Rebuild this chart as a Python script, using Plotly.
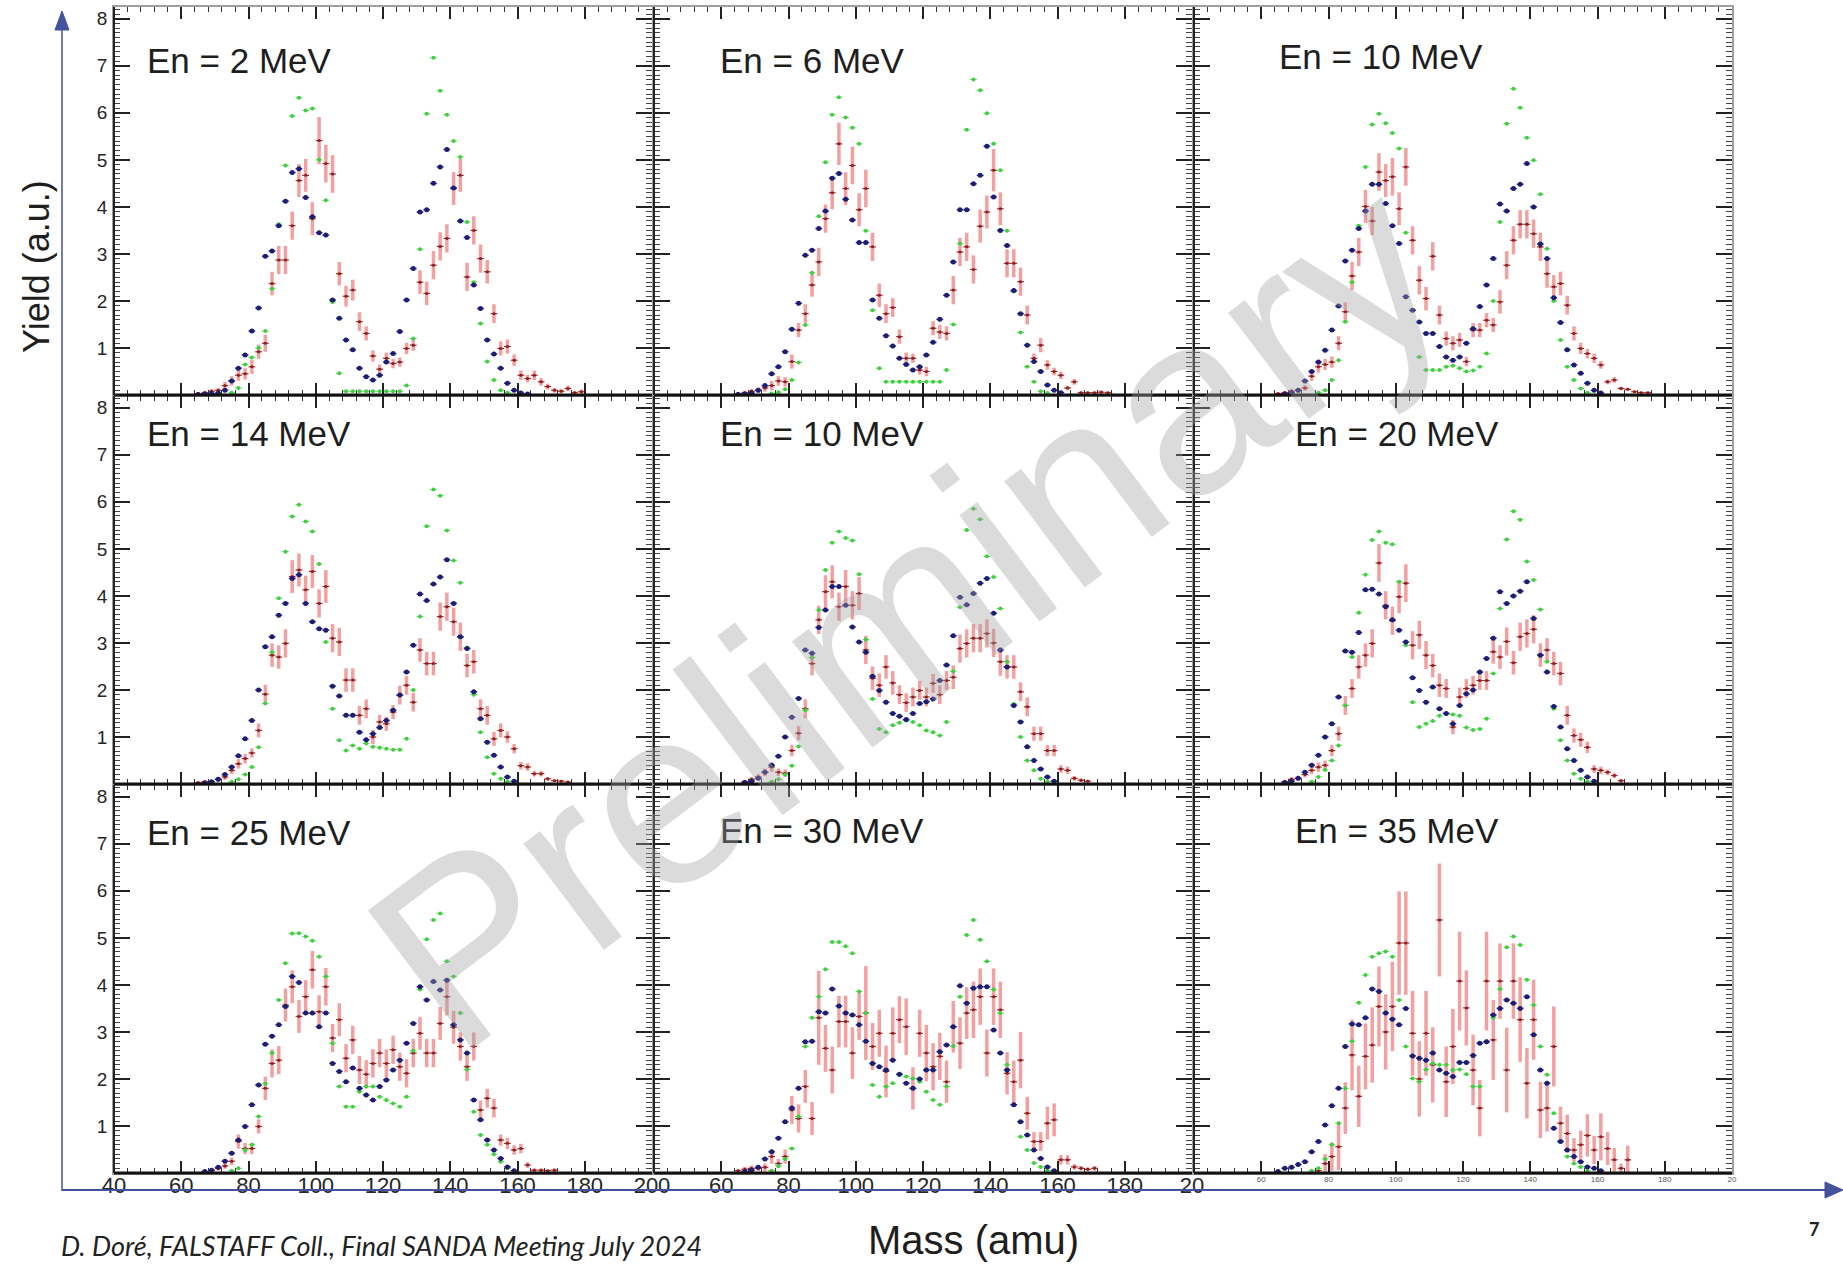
import plotly.graph_objects as go

W, H = 1843, 1266
N = None
MASS = list(range(61, 180, 2))  # bin centres (amu), 2-amu bins

TITLES = ["En = 2 MeV", "En = 6 MeV", "En = 10 MeV",
          "En = 14 MeV", "En = 10 MeV", "En = 20 MeV",
          "En = 25 MeV", "En = 30 MeV", "En = 35 MeV"]

# ---------------- panel 1 : 2 MeV
G1 = [N,N,N,N,N,N,N,0.05,0.15,0.65, 0.8,1.0,1.36,2.26,3.63,4.88,5.93,6.32,6.05,6.09,
      5.0,4.14,1.98,0.46,0.08,0.08,0.08,0.08,0.08,0.08, 0.08,0.08,0.08,0.2,1.2,3.1,5.98,7.17,6.47,5.96,
      5.4,5.06,3.68,2.4,1.52,0.71,0.32,0.1,0.05,N, N,N,N,N,N,N,N,N,N,N]
B1 = [N,N,0.01,0.02,0.03,0.04,0.1,0.3,0.57,0.85, 1.36,1.85,2.95,3.06,3.6,4.12,4.73,4.81,4.2,3.79,
      3.45,3.4,2.02,1.63,1.17,0.96,0.57,0.39,0.32,0.42, 0.7,0.88,1.35,2.02,2.69,3.89,3.94,4.5,4.85,5.22,
      4.4,3.7,3.35,2.34,1.84,1.17,0.87,0.57,0.25,0.1, 0.04,0.02,N,N,N,N,N,N,N,N]
R1 = [N,N,0.03,0.05,0.08,0.1,0.2,0.3,0.42,0.45, 0.6,0.92,1.1,2.37,2.87,2.87,3.6,4.56,4.67,3.75,
      5.41,4.92,4.7,2.58,2.1,2.23,1.56,1.31,0.83,0.55, 0.78,0.67,0.7,0.99,1.06,2.4,2.16,2.76,3.16,3.33,
      4.39,4.67,2.51,3.5,2.9,2.62,1.73,0.99,1.03,0.74, 0.42,0.35,0.42,0.28,0.18,0.1,0.08,0.14,0.05,0.07]
E1 = [N,N,0.03,0.04,0.05,0.05,0.08,0.1,0.12,0.12, 0.15,0.15,0.18,0.25,0.3,0.3,0.3,0.35,0.35,0.35,
      0.5,0.4,0.4,0.25,0.22,0.22,0.2,0.15,0.12,0.1, 0.12,0.1,0.1,0.12,0.12,0.25,0.25,0.3,0.3,0.3,
      0.35,0.35,0.3,0.3,0.3,0.25,0.2,0.15,0.15,0.12, 0.1,0.08,0.1,0.08,0.06,0.05,0.05,0.06,0.04,0.05]

# ---------------- panel 2 : 6 MeV
G2 = [N,N,N,N,N,N,N,0.03,0.06,0.12, 0.32,0.69,1.49,2.6,3.8,4.95,5.96,6.33,5.9,5.68,
      5.34,3.49,1.8,0.57,0.28,0.28,0.28,0.28,0.28,0.28, 0.28,0.28,0.28,0.53,1.5,3.22,5.64,6.71,6.48,5.99,
      5.34,4.78,3.49,2.2,1.33,0.6,0.28,0.08,0.04,N, N,N,N,N,N,N,N,N,N,N]
B2 = [N,N,0.01,0.02,0.04,0.1,0.2,0.45,0.6,0.92, 1.4,1.95,2.97,3.08,3.54,3.91,4.61,4.71,4.16,3.72,
      3.24,3.24,2.02,1.63,1.26,1.04,0.78,0.65,0.53,0.6, 0.85,1.12,1.61,2.12,2.83,3.94,3.94,4.49,4.67,5.29,
      4.21,3.5,3.18,2.22,1.73,1.06,0.71,0.5,0.21,0.1, 0.05,N,N,N,N,N,N,N,N,N]
R2 = [N,N,0.03,0.05,0.08,0.1,0.15,0.2,0.3,0.28, 0.71,1.38,1.73,2.34,2.83,3.75,4.3,5.34,4.39,4.88,
      3.94,4.39,3.15,2.12,1.73,1.86,1.24,0.78,0.78,0.53, 0.5,1.42,1.34,1.31,2.23,3.04,3.15,2.67,3.59,3.89,
      4.78,3.96,2.8,2.8,2.41,1.7,0.78,1.06,0.64,0.5, 0.42,0.15,0.28,0.05,0.05,0.05,0.06,0.05,N,N]
E2 = [N,N,0.03,0.04,0.05,0.06,0.08,0.1,0.1,0.1, 0.15,0.15,0.2,0.25,0.3,0.3,0.35,0.45,0.35,0.4,
      0.35,0.4,0.3,0.25,0.2,0.2,0.15,0.12,0.1,0.1, 0.1,0.15,0.15,0.15,0.3,0.3,0.3,0.3,0.35,0.35,
      0.45,0.35,0.3,0.3,0.3,0.2,0.1,0.15,0.1,0.08, 0.08,0.05,0.06,0.03,0.03,0.03,0.04,0.03,N,N]

# ---------------- panel 3 : 10 MeV
G3 = [N,N,N,N,N,N,N,N,0.05,0.1, 0.32,0.74,1.56,2.4,3.6,4.85,5.75,5.98,5.78,5.57,
      5.24,3.45,1.8,0.81,0.53,0.53,0.53,0.6,0.62,0.57, 0.5,0.52,0.6,0.88,2.0,3.68,5.77,6.51,6.11,5.47,
      4.99,4.27,3.11,2.0,1.17,0.6,0.32,0.14,0.05,N, N,N,N,N,N,N,N,N,N,N]
B3 = [N,N,N,0.02,0.05,0.1,0.3,0.5,0.7,0.95, 1.38,1.89,2.85,3.08,3.54,3.91,4.48,4.48,4.07,3.6,
      3.22,2.09,1.8,1.55,1.31,1.31,1.03,0.81,0.74,0.81, 1.1,1.41,1.88,2.34,2.9,4.06,3.91,4.39,4.48,4.92,
      4.0,3.21,2.9,2.07,1.54,0.96,0.64,0.46,0.25,0.1, 0.04,N,N,N,N,N,N,N,N,N]
R3 = [N,N,0.03,0.05,0.08,0.1,0.15,0.4,0.6,0.65, 0.7,1.1,1.77,2.53,3.04,4.01,3.7,4.74,4.56,4.64,
      3.96,4.85,3.29,2.44,2.05,2.95,1.7,1.2,1.1,1.17, 0.71,1.38,1.38,1.59,1.49,1.98,2.76,3.29,3.63,3.63,
      3.43,3.15,2.58,2.3,2.37,1.91,1.31,0.99,0.88,0.78, 0.64,0.28,0.32,0.14,0.12,0.07,0.05,0.05,N,N]
E3 = [N,N,0.03,0.04,0.05,0.05,0.06,0.1,0.12,0.12, 0.12,0.15,0.2,0.3,0.3,0.35,0.3,0.4,0.35,0.4,
      0.35,0.4,0.3,0.3,0.25,0.3,0.2,0.15,0.15,0.15, 0.1,0.15,0.15,0.15,0.15,0.25,0.3,0.3,0.3,0.3,
      0.3,0.3,0.3,0.25,0.25,0.2,0.15,0.12,0.1,0.1, 0.08,0.05,0.06,0.04,0.03,0.03,0.03,0.03,N,N]

# ---------------- panel 4 : 14 MeV
G4 = [N,N,N,N,N,N,N,0.05,0.1,0.2, 0.36,0.78,1.71,2.8,3.95,4.94,5.69,5.94,5.58,5.37,
      4.68,3.02,1.6,0.93,0.71,0.82,0.75,0.86,0.79,0.77, 0.75,0.73,0.73,0.96,2.0,3.56,5.48,6.26,6.13,5.39,
      4.75,4.28,2.9,1.9,1.1,0.57,0.22,0.11,0.05,N, N,N,N,N,N,N,N,N,N,N]
B4 = [N,N,N,0.02,0.05,0.1,0.2,0.36,0.6,0.96, 1.35,2.0,2.92,3.13,3.59,3.84,4.37,4.45,3.84,3.45,
      3.3,3.27,2.08,1.87,1.46,1.46,1.1,0.94,1.07,1.2, 1.35,1.57,1.89,2.38,2.95,4.04,3.9,4.25,4.4,4.77,
      3.84,3.13,2.88,1.96,1.39,0.89,0.61,0.36,0.15,0.06, N,N,N,N,N,N,N,N,N,N]
R4 = [N,N,0.03,0.05,0.05,0.1,0.15,0.29,0.43,0.54, 0.66,1.14,1.91,2.74,2.7,2.99,4.41,4.55,4.13,4.52,
      3.84,4.2,3.1,3.02,2.21,2.21,1.46,1.6,1.0,1.32, 1.28,1.53,1.89,2.1,1.74,2.85,2.56,2.56,3.56,3.77,
      3.45,3.13,2.52,2.6,1.6,1.46,0.96,1.14,1.0,0.75, 0.39,0.36,0.22,0.22,0.11,0.07,0.06,0.04,N,N]
E4 = [N,N,0.03,0.03,0.03,0.05,0.06,0.08,0.1,0.1, 0.1,0.15,0.2,0.25,0.25,0.3,0.35,0.35,0.3,0.35,
      0.3,0.35,0.3,0.3,0.25,0.25,0.2,0.2,0.15,0.15, 0.15,0.15,0.2,0.2,0.2,0.25,0.25,0.25,0.3,0.3,
      0.3,0.3,0.25,0.25,0.2,0.2,0.15,0.15,0.12,0.1, 0.08,0.08,0.06,0.06,0.04,0.03,0.03,0.03,N,N]

# ---------------- panel 5 : 10 MeV (second)
G5 = [N,N,N,N,N,N,N,0.05,0.1,0.2, 0.39,0.8,1.57,2.69,3.7,4.55,5.13,5.37,5.23,5.18,
      4.46,3.07,1.81,1.17,1.1,1.25,1.3,1.35,1.32,1.25, 1.14,1.1,1.03,1.32,2.4,3.76,5.4,5.85,5.63,4.84,
      4.4,3.73,2.6,1.7,1.0,0.5,0.29,0.11,0.05,N, N,N,N,N,N,N,N,N,N,N]
B5 = [N,N,N,0.03,0.06,0.12,0.25,0.4,0.59,1.0, 1.42,1.82,2.85,2.78,3.33,3.7,4.2,4.2,3.8,3.34,
      3.02,2.8,2.29,1.99,1.74,1.5,1.44,1.37,1.5,1.71, 1.75,1.81,2.2,2.53,3.15,3.97,3.81,4.05,4.27,4.37,
      3.63,2.85,2.49,1.67,1.32,0.79,0.5,0.32,0.15,0.06, N,N,N,N,N,N,N,N,N,N]
R5 = [N,N,N,0.05,0.1,0.15,0.25,0.36,0.25,0.23, 0.71,1.08,1.6,2.56,3.49,4.09,4.3,3.77,4.2,3.8,
      4.05,2.85,2.25,2.1,2.49,2.15,1.9,1.73,1.85,1.99, 1.85,2.14,1.9,2.2,2.27,2.88,2.99,3.1,3.1,3.2,
      3.0,2.6,2.49,2.49,1.96,1.64,1.07,1.07,0.71,0.71, 0.32,0.29,0.12,0.08,0.06,N,N,N,N,N]
E5 = [N,N,N,0.04,0.05,0.06,0.08,0.1,0.08,0.08, 0.12,0.15,0.2,0.25,0.3,0.35,0.35,0.3,0.35,0.3,
      0.35,0.3,0.25,0.25,0.25,0.25,0.2,0.2,0.2,0.2, 0.2,0.2,0.2,0.2,0.25,0.3,0.3,0.3,0.3,0.3,
      0.3,0.3,0.25,0.25,0.2,0.2,0.15,0.15,0.12,0.12, 0.08,0.08,0.05,0.04,0.03,N,N,N,N,N]

# ---------------- panel 6 : 20 MeV
G6 = [N,N,N,N,N,N,N,0.05,0.15,0.3, 0.5,0.82,1.67,2.7,3.64,4.45,5.19,5.37,5.13,5.1,
      4.3,2.95,1.74,1.21,1.28,1.34,1.45,1.5,1.48,1.45, 1.2,1.15,1.17,1.39,2.35,3.73,5.2,5.8,5.62,4.73,
      4.34,3.71,2.6,1.6,0.93,0.5,0.22,0.11,0.05,N, N,N,N,N,N,N,N,N,N,N]
B6 = [N,N,N,0.03,0.06,0.12,0.25,0.4,0.61,1.0, 1.28,1.85,2.83,2.8,3.22,4.13,4.14,4.04,3.77,3.49,
      3.27,3.02,2.26,1.99,1.74,2.06,1.6,1.5,1.28,1.67, 1.92,2.0,2.38,2.67,3.1,4.09,3.84,4.0,4.1,4.3,
      3.52,2.74,2.38,1.65,1.21,0.75,0.5,0.29,0.15,0.06, N,N,N,N,N,N,N,N,N,N]
R6 = [N,N,N,0.05,0.1,0.12,0.2,0.29,0.36,0.4, 0.71,1.07,1.67,2.03,2.49,2.74,2.99,4.7,3.8,3.47,
      3.98,4.27,2.95,3.17,2.74,2.52,2.1,2.03,1.21,1.85, 2.03,2.1,2.2,2.2,2.81,2.7,3.03,2.58,3.13,3.2,
      3.29,2.74,2.85,2.56,2.35,1.46,1.03,0.94,0.78,0.32, 0.29,0.25,0.18,0.07,N,N,N,N,N,N]
E6 = [N,N,N,0.04,0.05,0.05,0.06,0.08,0.1,0.1, 0.12,0.15,0.2,0.2,0.25,0.25,0.3,0.4,0.3,0.3,
      0.35,0.4,0.3,0.3,0.3,0.25,0.25,0.2,0.15,0.2, 0.2,0.2,0.2,0.2,0.25,0.25,0.3,0.25,0.3,0.3,
      0.3,0.25,0.25,0.25,0.25,0.2,0.15,0.15,0.12,0.08, 0.08,0.06,0.05,0.04,N,N,N,N,N,N]

# ---------------- panel 7 : 25 MeV
G7 = [N,N,N,N,N,N,N,0.05,0.1,0.49, 0.6,1.2,1.9,2.55,3.68,4.46,5.09,5.1,5.03,4.94,
      4.6,4.18,2.76,1.84,1.41,1.41,1.73,1.84,1.84,1.62, 1.55,1.48,1.41,1.62,2.6,3.9,4.97,5.38,5.52,4.5,
      4.18,3.4,2.2,1.3,0.81,0.6,0.4,0.24,0.1,N, N,N,N,N,N,N,N,N,N,N]
B7 = [N,N,N,0.03,0.06,0.12,0.25,0.42,0.7,0.99, 1.45,1.87,2.74,2.91,3.15,3.54,4.18,4.05,3.4,3.4,
      3.11,3.4,2.33,2.16,1.94,2.23,1.8,1.66,1.55,1.84, 1.98,2.19,2.4,2.76,3.18,3.96,3.68,4.07,3.89,4.1,
      3.15,2.83,2.55,1.55,1.13,0.7,0.49,0.31,0.13,0.05, N,N,N,N,N,N,N,N,N,N]
R7 = [N,N,N,0.03,0.05,0.1,0.15,0.25,0.67,0.52, 0.52,0.99,1.8,2.33,2.4,3.57,3.96,3.33,3.75,4.32,
      3.43,3.96,2.87,3.26,2.44,2.83,2.19,2.1,2.33,2.55, 2.33,2.62,2.26,2.12,2.55,2.97,2.55,2.55,3.18,3.75,
      3.1,2.69,2.26,2.69,1.34,1.59,1.38,0.7,0.63,0.49, 0.52,0.17,0.06,0.06,0.05,0.06,N,N,N,N]
E7 = [N,N,N,0.03,0.04,0.05,0.06,0.08,0.15,0.12, 0.12,0.15,0.25,0.3,0.3,0.35,0.35,0.35,0.35,0.4,
      0.35,0.4,0.3,0.35,0.3,0.3,0.3,0.3,0.3,0.3, 0.3,0.3,0.3,0.3,0.3,0.35,0.3,0.3,0.35,0.4,
      0.35,0.3,0.3,0.3,0.2,0.2,0.2,0.12,0.12,0.1, 0.1,0.06,0.04,0.04,0.03,0.04,N,N,N,N]

# ---------------- panel 8 : 30 MeV
G8 = [N,N,N,N,N,N,N,0.05,0.15,0.3, 0.52,1.2,2.69,3.3,3.75,4.33,4.91,4.91,4.82,4.67,
      3.86,3.4,1.87,1.62,1.84,1.91,2.09,2.05,2.01,1.94, 1.73,1.55,1.45,1.84,2.7,3.75,5.06,5.38,4.96,4.5,
      3.9,3.4,2.3,1.45,0.77,0.49,0.21,0.13,0.05,N, N,N,N,N,N,N,N,N,N,N]
B8 = [N,N,N,0.03,0.06,0.12,0.3,0.45,0.74,1.09, 1.38,1.8,2.79,2.8,3.43,3.4,3.91,3.55,3.4,3.36,
      3.15,2.8,2.33,2.26,2.19,2.4,2.1,1.91,1.8,2.0, 2.19,2.19,2.58,2.72,3.11,3.98,3.61,3.93,3.96,3.96,
      3.04,2.55,2.19,1.45,1.09,0.81,0.49,0.31,0.13,0.05, N,N,N,N,N,N,N,N,N,N]
R8 = [N,N,0.05,0.08,0.1,0.1,0.12,0.35,0.2,0.35, 1.34,1.16,1.84,1.16,3.3,2.65,2.19,3.22,3.22,2.55,
      3.33,3.4,2.69,2.97,2.16,2.97,3.26,3.11,1.8,2.97, 2.55,2.26,2.48,1.94,3.11,2.76,3.4,3.47,3.75,2.55,
      3.75,3.47,2.12,1.94,2.4,1.27,0.67,0.67,1.06,1.13, 0.28,0.28,0.13,0.1,0.08,0.1,N,N,N,N]
E8 = [N,N,0.04,0.05,0.06,0.06,0.08,0.15,0.1,0.15, 0.3,0.3,0.35,0.35,1.0,0.5,0.5,0.55,0.55,0.55,
      0.5,1.0,0.5,0.5,0.55,0.55,0.5,0.6,0.45,0.5, 0.6,0.5,0.5,0.45,0.55,0.55,0.55,0.6,0.6,0.5,
      0.6,0.6,0.45,0.45,0.6,0.35,0.2,0.2,0.35,0.35, 0.1,0.1,0.06,0.05,0.04,0.05,N,N,N,N]

# ---------------- panel 9 : 35 MeV
G9 = [N,N,N,N,N,N,N,0.05,0.1,0.3, 0.6,1.06,1.8,2.8,3.62,4.21,4.6,4.67,4.71,4.6,
      3.68,2.69,2.01,1.94,2.2,2.33,2.3,2.3,2.19,2.2, 2.1,1.84,1.84,2.8,3.3,3.91,4.8,5.03,4.85,4.11,
      3.57,2.69,2.09,1.27,0.67,0.35,0.2,0.13,0.05,N, N,N,N,N,N,N,N,N,N,N]
B9 = [N,N,0.03,0.1,0.12,0.18,0.24,0.45,0.67,1.02, 1.43,1.8,2.69,3.17,3.15,3.3,3.91,3.86,3.4,3.27,
      3.15,3.5,2.49,2.44,2.4,2.55,2.19,2.12,2.05,2.35, 2.35,2.5,2.76,2.79,3.36,3.5,3.68,3.61,3.5,3.75,
      2.94,2.19,1.91,0.95,0.67,0.49,0.35,0.24,0.13,0.1, 0.05,N,N,N,N,N,N,N,N,N]
R9 = [N,N,N,N,N,N,N,N,0.05,0.2, 0.35,0.56,1.38,2.51,1.63,2.48,2.72,3.54,3.0,3.54,
      4.89,4.89,2.97,2.0,2.97,2.3,5.38,1.94,2.69,4.08, 3.51,2.19,1.38,4.08,2.83,4.08,2.19,4.08,3.26,1.91,
      3.26,1.34,1.38,2.69,1.06,0.84,0.49,0.6,0.8,0.49, 0.77,0.52,0.28,0.1,0.28,N,N,N,N,N]
E9 = [N,N,N,N,N,N,N,N,0.05,0.2, 0.3,0.5,0.55,0.75,0.65,0.7,0.8,0.85,0.8,0.95,
      1.1,1.1,0.9,0.8,0.9,0.8,1.2,0.75,0.8,1.05, 0.8,0.75,0.6,1.05,0.85,0.8,0.9,0.8,0.9,0.75,
      0.85,0.6,0.5,0.85,0.35,0.4,0.25,0.3,0.45,0.3, 0.5,0.35,0.25,0.1,0.3,N,N,N,N,N]

GREEN = [G1, G2, G3, G4, G5, G6, G7, G8, G9]
BLUE = [B1, B2, B3, B4, B5, B6, B7, B8, B9]
RED = [R1, R2, R3, R4, R5, R6, R7, R8, R9]
RED_ERR = [E1, E2, E3, E4, E5, E6, E7, E8, E9]

X_TICKS = [40, 60, 80, 100, 120, 140, 160, 180, 200]
X_LABELS = [["40", "60", "80", "100", "120", "140", "160", "180", "200"],
            ["", "60", "80", "100", "120", "140", "160", "180", "20"],
            ["", "60", "80", "100", "120", "140", "160", "180", "20"]]
Y_TICKS = [1, 2, 3, 4, 5, 6, 7, 8]

# ---------------- geometry (pixels)
COLS = [(114, 652), (654, 1192), (1194, 1732)]
ROWS = [(7, 395), (396, 784), (785, 1173)]
TITLE_POS = [(145, 61), (718, 61), (1277, 56),
             (145, 433), (718, 433), (1293, 433),
             (145, 832), (718, 831), (1293, 831)]


def fx(px):
    return px / W


def fy(py):
    return 1 - py / H


FONT = "Arial, Liberation Sans, sans-serif"
fig = go.Figure()
layout = dict(width=W, height=H, autosize=False,
              margin=dict(l=0, r=0, t=0, b=0, pad=0, autoexpand=False),
              paper_bgcolor="white", plot_bgcolor="white", showlegend=False)
shapes = []
annotations = []

for k in range(9):
    r, c = divmod(k, 3)
    n = k + 1
    xa = "x" if n == 1 else f"x{n}"
    ya = "y" if n == 1 else f"y{n}"
    common = dict(xaxis=xa, yaxis=ya, mode="markers", hoverinfo="skip", cliponaxis=True)
    fig.add_trace(go.Scatter(x=MASS, y=RED[k], **common,
                             marker=dict(size=3, color="#8e1b1b"),
                             error_y=dict(type="data", array=RED_ERR[k], color="rgba(238,115,115,0.68)",
                                          thickness=3.5, width=0),
                             error_x=dict(type="constant", value=1, color="#a52a2a", thickness=1.2, width=0)))
    fig.add_trace(go.Scatter(x=MASS, y=GREEN[k], **common,
                             marker=dict(size=4, color="#3fcf3f"),
                             error_x=dict(type="constant", value=1, color="#5ad65a", thickness=1, width=0)))
    fig.add_trace(go.Scatter(x=MASS, y=BLUE[k], **common,
                             marker=dict(size=5, color="#1d1d74"),
                             error_x=dict(type="constant", value=1, color="#2a2a80", thickness=1.5, width=0)))

    x0, x1 = COLS[c]
    y0, y1 = ROWS[r]
    xkey = "xaxis" if n == 1 else f"xaxis{n}"
    ykey = "yaxis" if n == 1 else f"yaxis{n}"
    if c < 2:
        xfont = dict(family=FONT, size=22, color="#262626")
        xstand = -8
    else:
        xfont = dict(family=FONT, size=8, color="#555")
        xstand = -2
    layout[xkey] = dict(domain=[fx(x0), fx(x1)], anchor=ya, range=[40, 200], automargin=False,
                        showline=True, linecolor="#a0a0a0", linewidth=1.5, mirror="ticks",
                        ticks="inside", ticklen=12, tickwidth=1.5, tickcolor="#222",
                        tickmode="array", tickvals=X_TICKS, ticktext=X_LABELS[c],
                        showticklabels=(r == 2), tickfont=xfont, ticklabelstandoff=xstand,
                        minor=dict(dtick=4, tick0=40, ticks="inside", ticklen=5,
                                   tickwidth=1, tickcolor="#333"),
                        showgrid=False, zeroline=False, fixedrange=True)
    layout[ykey] = dict(domain=[fy(y1), fy(y0)], anchor=xa, range=[0, 8.25], automargin=False,
                        showline=True, linecolor="#a0a0a0", linewidth=1.5, mirror="ticks",
                        ticks="inside", ticklen=16, tickwidth=1.5, tickcolor="#222",
                        tickmode="array", tickvals=Y_TICKS,
                        showticklabels=(c == 0),
                        tickfont=dict(family=FONT, size=19, color="#262626"), ticklabelstandoff=1,
                        minor=dict(dtick=0.1, tick0=0, ticks="inside", ticklen=6,
                                   tickwidth=1, tickcolor="#444"),
                        showgrid=False, zeroline=False, fixedrange=True)
    # dark bottom and left frame lines
    shapes.append(dict(type="line", xref="paper", yref="paper", x0=fx(x0), x1=fx(x1),
                       y0=fy(y1), y1=fy(y1), line=dict(color="#111", width=3)))
    shapes.append(dict(type="line", xref="paper", yref="paper", x0=fx(x0), x1=fx(x0),
                       y0=fy(y1), y1=fy(y0), line=dict(color="#222", width=2)))
    tx, ty = TITLE_POS[k]
    annotations.append(dict(text=TITLES[k], xref="paper", yref="paper", x=fx(tx), y=fy(ty),
                            xanchor="left", yanchor="middle", showarrow=False,
                            font=dict(family=FONT, size=35, color="#1e1e1e")))

# outer blue axes with arrow heads
AX_COL = "#44519c"
shapes.append(dict(type="line", xref="paper", yref="paper", x0=fx(62), x1=fx(62),
                   y0=fy(1191), y1=fy(26), line=dict(color=AX_COL, width=1.5)))
shapes.append(dict(type="path", xref="paper", yref="paper",
                   path=f"M {fx(55)},{fy(30)} L {fx(69)},{fy(30)} L {fx(62)},{fy(11)} Z",
                   fillcolor=AX_COL, line=dict(color=AX_COL, width=1)))
shapes.append(dict(type="line", xref="paper", yref="paper", x0=fx(62), x1=fx(1828),
                   y0=fy(1190), y1=fy(1190), line=dict(color=AX_COL, width=2)))
shapes.append(dict(type="path", xref="paper", yref="paper",
                   path=f"M {fx(1825)},{fy(1182)} L {fx(1825)},{fy(1198)} L {fx(1843)},{fy(1190)} Z",
                   fillcolor=AX_COL, line=dict(color=AX_COL, width=1)))

annotations += [
    dict(text="Yield (a.u.)", xref="paper", yref="paper", x=fx(36), y=fy(267), textangle=-90,
         xanchor="center", yanchor="middle", showarrow=False,
         font=dict(family=FONT, size=36, color="#1e1e1e")),
    dict(text="Mass (amu)", xref="paper", yref="paper", x=fx(973), y=fy(1240),
         xanchor="center", yanchor="middle", showarrow=False,
         font=dict(family=FONT, size=40, color="#1e1e1e")),
    dict(text="<i>D. Doré, FALSTAFF Coll., Final SANDA Meeting July 2024</i>", xref="paper", yref="paper",
         x=fx(59), y=fy(1245), xanchor="left", yanchor="middle", showarrow=False,
         font=dict(family="Lato, Open Sans, sans-serif", size=27, color="#222")),
    dict(text="<b>7</b>", xref="paper", yref="paper", x=fx(1814), y=fy(1229),
         xanchor="center", yanchor="middle", showarrow=False,
         font=dict(family="Lato, sans-serif", size=18, color="#222")),
    dict(text="Preliminary", xref="paper", yref="paper", x=fx(906), y=fy(612), textangle=-37,
         xanchor="center", yanchor="middle", showarrow=False,
         font=dict(family=FONT, size=252, color="rgba(160,160,160,0.38)")),
]

layout["shapes"] = shapes
layout["annotations"] = annotations
fig.update_layout(**layout)
fig.write_html(
    "out.html",
    config={"displayModeBar": False},
    post_script=("document.body.style.margin='0';document.body.style.padding='0';"
                 "document.body.style.overflow='hidden';"
                 "document.documentElement.style.overflow='hidden';"),
)
